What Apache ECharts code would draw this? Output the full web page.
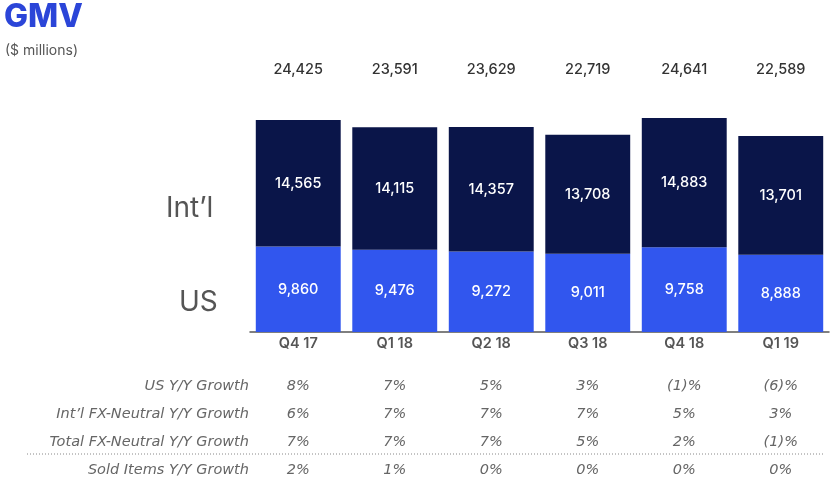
<!DOCTYPE html>
<html lang="en">
<head>
    <meta charset="UTF-8">
    <title>GMV</title>
    <script src="https://cdn.jsdelivr.net/npm/echarts@6/dist/echarts.min.js"></script>
    <style>
        html, body { margin: 0; padding: 0; background: #fff; }
    </style>
</head>
<body>
    <div id="chart" style="width:832px;height:482px;"></div>
</body>
<script>
    // 季度
    const quarters = ['Q4 17', 'Q1 18', 'Q2 18', 'Q3 18', 'Q4 18', 'Q1 19'];
    const usGmv = [9860, 9476, 9272, 9011, 9758, 8888];
    const intlGmv = [14565, 14115, 14357, 13708, 14883, 13701];

    // table rows
    const rowNames = ['US Y/Y Growth', 'Int\u2019l FX-Neutral Y/Y Growth', 'Total FX-Neutral Y/Y Growth', 'Sold Items Y/Y Growth'];
    const usGrowth = ['8%', '7%', '5%', '3%', '(1)%', '(6)%'];
    const intlGrowth = ['6%', '7%', '7%', '7%', '5%', '3%'];
    const totalGrowth = ['7%', '7%', '7%', '5%', '2%', '(1)%'];
    const soldItemsGrowth = ['2%', '1%', '0%', '0%', '0%', '0%'];
    const rows = [usGrowth, intlGrowth, totalGrowth, soldItemsGrowth];

    const totals = usGmv.map((v, i) => v + intlGmv[i]);
    const fmt = v => v.toLocaleString('en-US');

    const FONT = 'Inter';
    const TABLE_FONT = 'DejaVu Sans';
    const GRID_BOTTOM_Y = 332;
    const rowY = [386, 414, 442, 470];

    var chart = echarts.init(document.getElementById('chart'));

    var xAxes = [{
        type: 'category',
        data: quarters,
        position: 'bottom',
        axisLine: { lineStyle: { color: '#555', width: 1.5 } },
        axisTick: { show: false },
        axisLabel: {
            margin: 12, verticalAlign: 'middle',
            color: '#555', fontSize: 14.5, fontWeight: 600, fontFamily: FONT
        }
    }, {
        // totals on top
        type: 'category',
        data: quarters,
        position: 'top',
        offset: 45,
        axisLine: { show: false },
        axisTick: { show: false },
        axisLabel: {
            margin: 0, verticalAlign: 'middle',
            color: '#333', fontSize: 14.5, fontWeight: 500, fontFamily: FONT,
            formatter: (v, i) => fmt(totals[i])
        }
    }];

    rows.forEach((r, k) => {
        xAxes.push({
            type: 'category',
            data: quarters,
            position: 'bottom',
            offset: rowY[k] - GRID_BOTTOM_Y,
            axisLine: { show: false },
            axisTick: { show: false },
            axisLabel: {
                margin: 0, verticalAlign: 'middle',
                color: '#666', fontSize: 14.5, fontStyle: 'italic', fontFamily: TABLE_FONT,
                formatter: (v, i) => r[i]
            },
            name: rowNames[k],
            nameLocation: 'start',
            nameGap: 1,
            nameTextStyle: {
                color: '#666', fontSize: 14.5, fontStyle: 'italic', fontFamily: TABLE_FONT,
                verticalAlign: 'middle'
            }
        });
    });

    var options = {
        backgroundColor: '#fff',
        animation: false,
        textStyle: { fontFamily: FONT },
        grid: { left: 250, right: 3, top: 115, bottom: 482 - GRID_BOTTOM_Y },
        xAxis: xAxes,
        yAxis: { type: 'value', min: 0, max: 25000, show: false },
        graphic: [
            { type: 'text', left: 4, top: 1, style: { text: 'GMV', fill: '#2b45d8', fontSize: 32, fontWeight: 800, fontFamily: FONT } },
            { type: 'text', left: 5, top: 44, style: { text: '($ millions)', fill: '#555', fontSize: 14, fontFamily: FONT } },
            { type: 'text', left: 166, top: 195, style: { text: 'Int\u2019l', fill: '#555', fontSize: 28, fontFamily: FONT } },
            { type: 'text', left: 179, top: 289, style: { text: 'US', fill: '#555', fontSize: 28, fontFamily: FONT } },
            {
                type: 'line',
                shape: { x1: 27, y1: 454, x2: 823, y2: 454 },
                style: { stroke: '#888', lineWidth: 1, lineDash: [1, 2] }
            }
        ],
        series: [{
            name: 'US',
            type: 'bar',
            stack: 'gmv',
            barCategoryGap: '12%',
            data: usGmv,
            itemStyle: { color: '#3156ee' },
            label: { show: true, position: 'inside', color: '#fff', fontSize: 14.5, fontWeight: 500, fontFamily: FONT, formatter: p => fmt(p.value) }
        }, {
            name: 'Int\u2019l',
            type: 'bar',
            stack: 'gmv',
            data: intlGmv,
            itemStyle: { color: '#0a1549' },
            label: { show: true, position: 'inside', color: '#fff', fontSize: 14.5, fontWeight: 500, fontFamily: FONT, formatter: p => fmt(p.value) }
        }]
    };

    chart.setOption(options);
</script>
</html>
